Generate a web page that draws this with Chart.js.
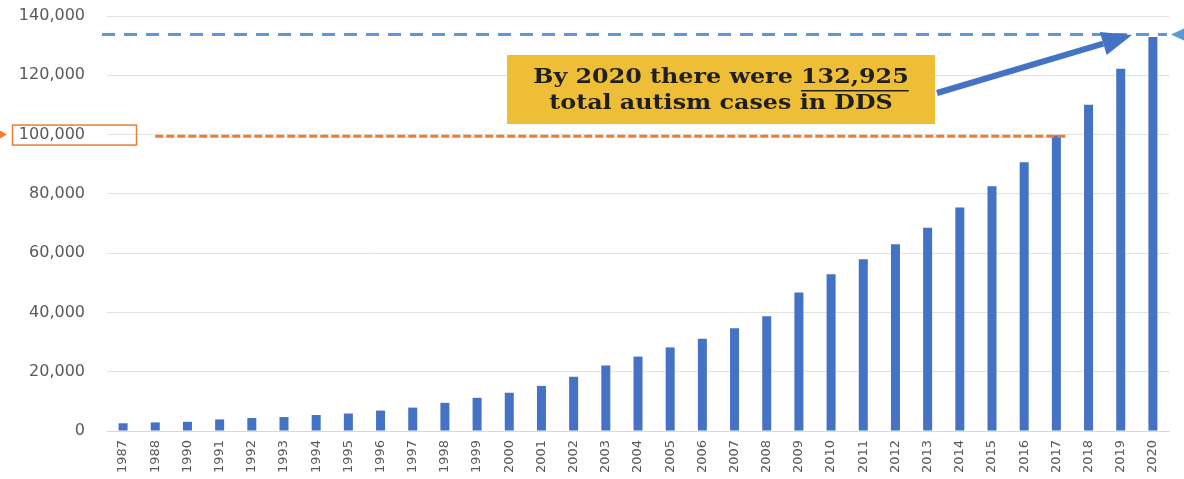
<!DOCTYPE html>
<html><head><meta charset="utf-8">
<script src="https://cdn.jsdelivr.net/npm/chart.js@4/dist/chart.umd.min.js"></script>
<style>html,body{margin:0;padding:0;background:#fff;overflow:hidden}</style>
</head><body>
<canvas id="c" width="1184" height="479"></canvas>
<script>
const years = ['1987','1988','1990','1991','1992','1993','1994','1995','1996','1997','1998','1999','2000','2001','2002','2003','2004','2005','2006','2007','2008','2009','2010','2011','2012','2013','2014','2015','2016','2017','2018','2019','2020'];
const cases = [2600,2900,3100,3900,4400,4700,5400,5900,6900,7900,9500,11200,12900,15200,18300,22100,25100,28200,31100,34700,38700,46700,52900,57900,63000,68600,75400,82600,90700,99800,110100,122200,132925];
const yTicks = [0,20000,40000,60000,80000,100000,120000,140000];
const targetLineValue = 133800;
const priorLineValue = 99400;
const calloutText = ['By 2020 there were ', '132,925', 'total autism cases in DDS'];

const overlay = {
  id: 'overlay',
  afterDraw(chart) {
    const ctx = chart.ctx, xs = chart.scales.x, ys = chart.scales.y, ca = chart.chartArea;
    ctx.save();
    // blue dashed target line
    const yb = ys.getPixelForValue(targetLineValue);
    ctx.strokeStyle = '#5B9BD5'; ctx.lineWidth = 3; ctx.setLineDash([13, 9]);
    ctx.beginPath(); ctx.moveTo(ca.left - 5, yb); ctx.lineTo(ca.right - 2, yb); ctx.stroke();
    ctx.setLineDash([]);
    ctx.fillStyle = '#5B9BD5';
    ctx.beginPath(); ctx.moveTo(ca.right + 2, yb); ctx.lineTo(ca.right + 15, yb - 6); ctx.lineTo(ca.right + 15, yb + 6); ctx.closePath(); ctx.fill();

    // orange dashed line
    const yo = ys.getPixelForValue(priorLineValue);
    ctx.strokeStyle = '#ED7D31'; ctx.lineWidth = 3; ctx.setLineDash([8, 3]);
    ctx.beginPath(); ctx.moveTo(xs.getPixelForValue(1), yo); ctx.lineTo(xs.getPixelForValue(29) + 9, yo); ctx.stroke();
    ctx.setLineDash([]);
    // orange box around 100,000 label
    const y100 = ys.getPixelForValue(100000);
    ctx.lineWidth = 1.5;
    ctx.strokeRect(12.5, y100 - 9.5, 124, 20);
    ctx.fillStyle = '#ED7D31';
    ctx.beginPath(); ctx.moveTo(7, y100); ctx.lineTo(0, y100 - 4); ctx.lineTo(0, y100 + 4); ctx.closePath(); ctx.fill();

    // callout box
    const bx = 507, by = 55, bw = 428, bh = 69;
    ctx.fillStyle = '#EEBE36';
    ctx.fillRect(bx, by, bw, bh);
    ctx.fillStyle = '#1f1f1f';
    ctx.font = 'bold 20px "DejaVu Serif"';
    ctx.textBaseline = 'middle';
    const sx = 1.19;
    const cx = bx + bw / 2;
    ctx.save();
    ctx.translate(cx, 0); ctx.scale(sx, 1);
    const w1 = ctx.measureText(calloutText[0]).width, w2 = ctx.measureText(calloutText[1]).width;
    const x1 = -(w1 + w2) / 2;
    ctx.textAlign = 'left';
    ctx.fillText(calloutText[0], x1, by + 23);
    ctx.fillText(calloutText[1], x1 + w1, by + 23);
    ctx.fillRect(x1 + w1, by + 35, w2, 1.5);
    ctx.textAlign = 'center';
    ctx.fillText(calloutText[2], 0, by + 49);
    ctx.restore();

    // arrow
    ctx.strokeStyle = '#4472C4'; ctx.fillStyle = '#4472C4'; ctx.lineWidth = 6;
    const ax0 = 937, ay0 = 93, ax1 = 1132, ay1 = 35;
    const ang = Math.atan2(ay1 - ay0, ax1 - ax0);
    const hl = 30, hw = 12;
    const bxh = ax1 - hl * Math.cos(ang), byh = ay1 - hl * Math.sin(ang);
    ctx.beginPath(); ctx.moveTo(ax0, ay0); ctx.lineTo(bxh, byh); ctx.stroke();
    ctx.beginPath(); ctx.moveTo(ax1, ay1);
    ctx.lineTo(bxh + hw * Math.sin(ang), byh - hw * Math.cos(ang));
    ctx.lineTo(bxh - hw * Math.sin(ang), byh + hw * Math.cos(ang));
    ctx.closePath(); ctx.fill();
    ctx.restore();
  }
};

new Chart(document.getElementById('c'), {
  type: 'bar',
  data: { labels: years, datasets: [{ data: cases, backgroundColor: '#4472C4', categoryPercentage: 1, barPercentage: 0.28 }] },
  options: {
    responsive: false, animation: false,
    layout: { padding: { top: 16, right: 15, left: 0, bottom: 0 } },
    plugins: { legend: { display: false }, tooltip: { enabled: false } },
    scales: {
      x: {
        grid: { display: false, drawTicks: false },
        border: { display: true, color: '#d9d9d9' },
        ticks: { minRotation: 90, maxRotation: 90, autoSkip: false, padding: 9, color: '#595959', font: { family: 'DejaVu Sans', size: 13 } },
        afterFit(a) { a.height = 48; }
      },
      y: {
        min: 0, max: 140000,
        afterBuildTicks(a) { a.ticks = yTicks.map(v => ({ value: v })); },
        grid: { color: '#e3e3e3', drawTicks: true, tickLength: 22, tickColor: 'rgba(0,0,0,0)' },
        border: { display: false },
        ticks: { padding: 0, color: '#595959', font: { family: 'DejaVu Sans', size: 16 }, callback: v => Number(v).toLocaleString('en-US') },
        afterFit(a) { a.width = 107; }
      }
    }
  },
  plugins: [overlay]
});
</script>
</body></html>
